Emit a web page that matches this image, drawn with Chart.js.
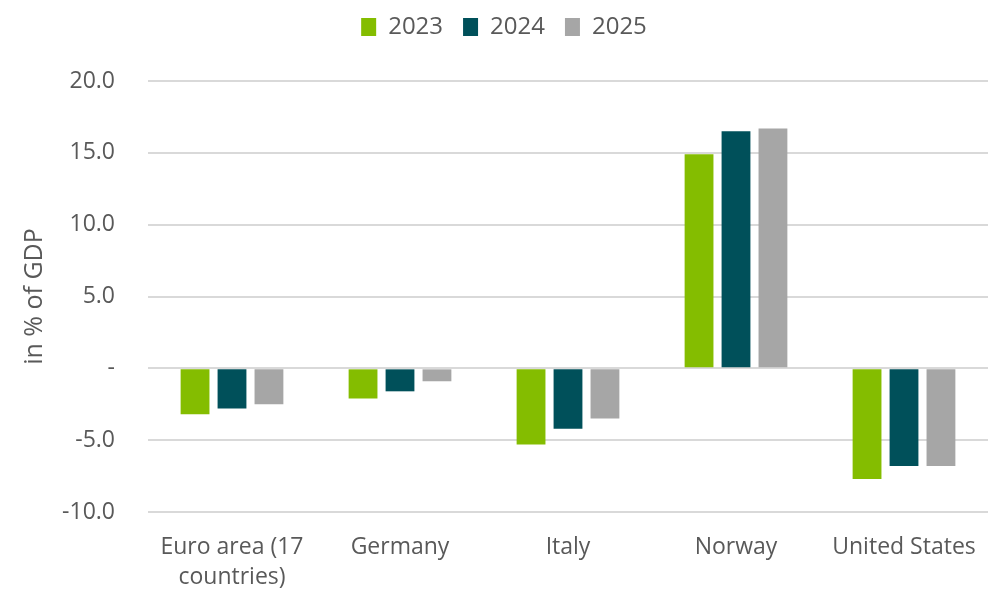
<!DOCTYPE html>
<html>
<head>
<meta charset="utf-8">
<script src="https://cdn.jsdelivr.net/npm/chart.js@4"></script>
<style>
  html, body { margin: 0; padding: 0; background: #fff; }
  #wrap { width: 988px; height: 591px; }
</style>
</head>
<body>
<div id="wrap"><canvas id="balanceChart" width="988" height="591"></canvas></div>
<script>
// categories and series
const countries = [['Euro area (17', 'countries)'], 'Germany', 'Italy', 'Norway', 'United States'];
const years = ['2023', '2024', '2025'];
const values2023 = [-3.2, -2.1, -5.3, 14.9, -7.7];
const values2024 = [-2.8, -1.6, -4.2, 16.5, -6.8];
const values2025 = [-2.5, -0.9, -3.5, 16.7, -6.8];
const yTicks = [-10, -5, 0, 5, 10, 15, 20];

const colors = ['#84bd00', '#00505a', '#a6a6a6'];
const textColor = '#595959';

// extra room between legend and plot
const legendSpacer = {
	id: 'legendSpacer',
	beforeInit(chart) {
		const origFit = chart.legend.fit;
		chart.legend.fit = function() {
			origFit.bind(chart.legend)();
			this.height += 32;
		};
	}
};

document.addEventListener("DOMContentLoaded", function(){
	const ctx = document.getElementById('balanceChart').getContext('2d');
	const series = [values2023, values2024, values2025];
	const chartData = {
		labels: countries,
		datasets: years.map(function(y, i){
			return {
				label: y,
				data: series[i],
				backgroundColor: colors[i],
				borderWidth: 0,
				categoryPercentage: 0.66,
				barPercentage: 0.78
			};
		})
	};
	new Chart(ctx, {
		type: 'bar',
		data: chartData,
		plugins: [legendSpacer],
		options: {
			responsive: false,
			animation: false,
			layout: { padding: { left: 20, right: 0, top: -5, bottom: 0 } },
			plugins: {
				legend: {
					position: 'top',
					labels: {
						color: textColor,
						font: { family: 'Open Sans', size: 24 },
						boxWidth: 15,
						boxHeight: 18,
						padding: 20
					}
				},
				tooltip: { enabled: false }
			},
			scales: {
				x: {
					grid: { display: false, drawTicks: false },
					border: { display: false },
					afterFit: function(scale){
						scale.height = 79;
						scale.paddingLeft = 0;
						scale.paddingRight = 0;
					},
					ticks: {
						color: textColor,
						font: { family: 'Open Sans', size: 23, lineHeight: 1.3 },
						padding: 21,
						maxRotation: 0
					}
				},
				y: {
					min: -10,
					max: 20,
					afterBuildTicks: function(axis){
						axis.ticks = yTicks.map(function(v){ return { value: v }; });
					},
					afterFit: function(scale){ scale.width = 128; },
					grid: { color: '#d9d9d9', lineWidth: 2, drawTicks: false },
					border: { display: false },
					ticks: {
						color: textColor,
						font: { family: 'Open Sans', size: 23 },
						padding: 33,
						callback: function(v){ return v === 0 ? '-' : v.toFixed(1); }
					},
					title: {
						display: true,
						text: 'in % of GDP',
						color: textColor,
						font: { family: 'Open Sans', size: 25 },
						padding: { top: 0, bottom: 12 }
					}
				}
			}
		}
	});
});
</script>
</body>
</html>
